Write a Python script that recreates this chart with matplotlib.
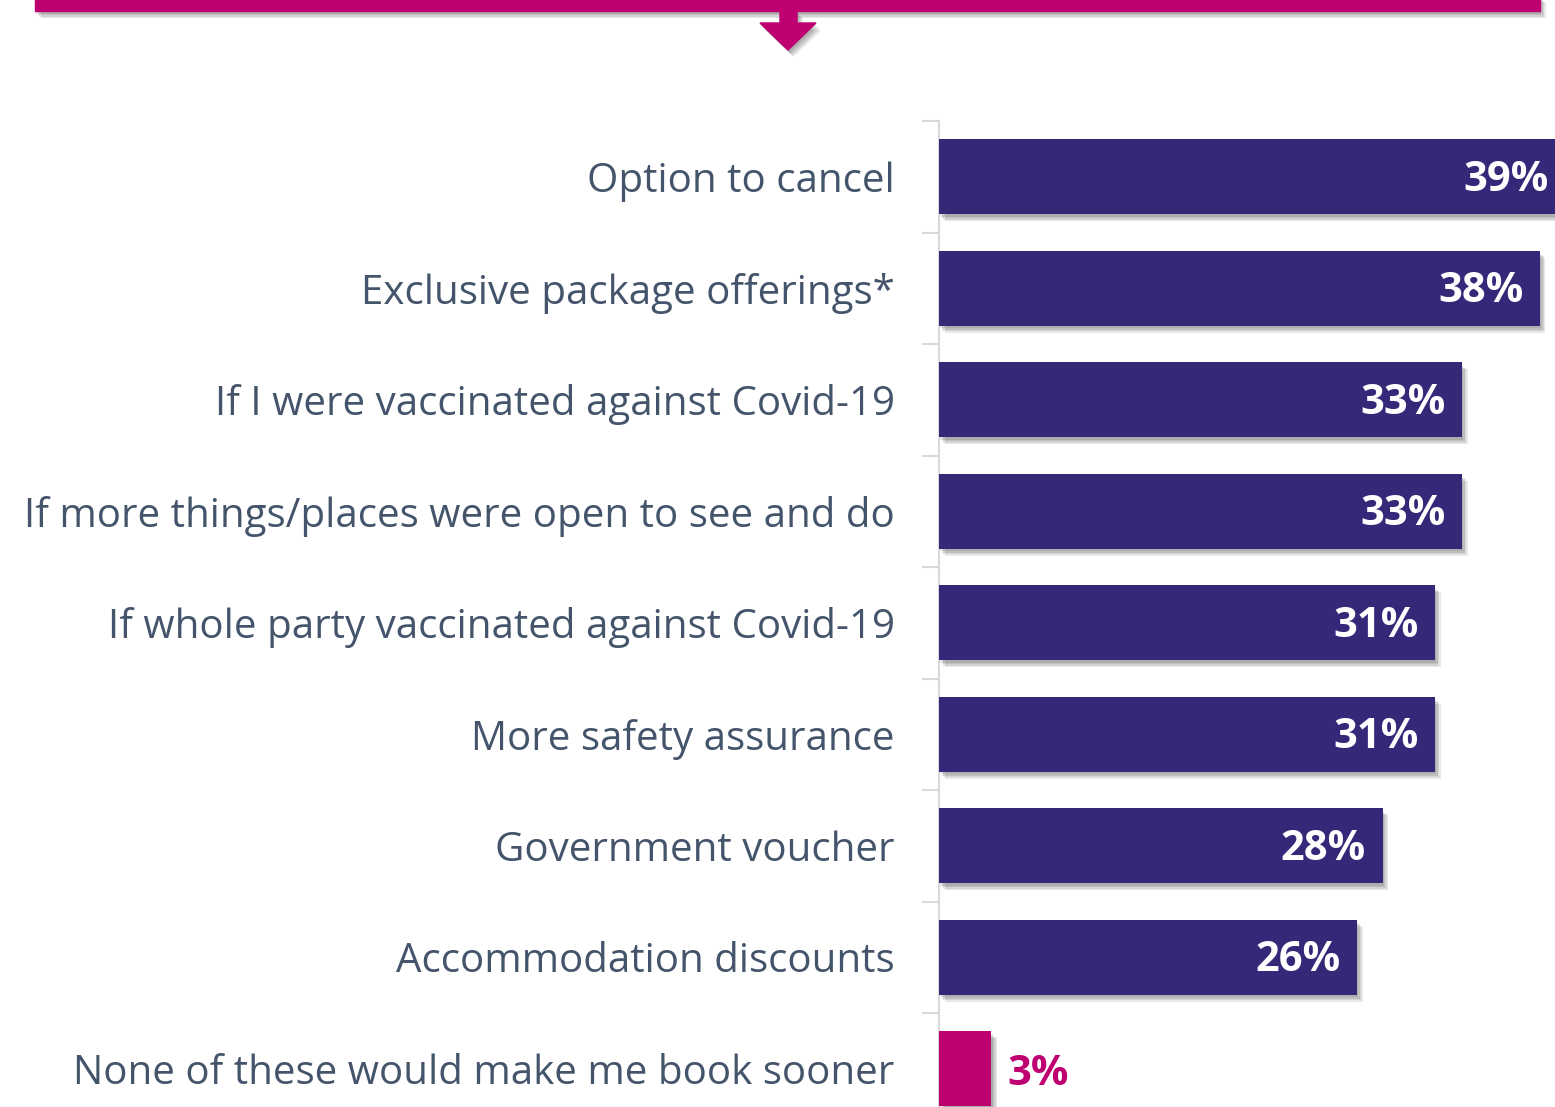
import numpy as np
import matplotlib.pyplot as plt
import matplotlib.patheffects as pe
from matplotlib.patches import Rectangle, Polygon

# values (labels show them rounded); top bar runs off the edge
categories = [
    "Option to cancel",
    "Exclusive package offerings*",
    "If I were vaccinated against Covid-19",
    "If more things/places were open to see and do",
    "If whole party vaccinated against Covid-19",
    "More safety assurance",
    "Government voucher",
    "Accommodation discounts",
    "None of these would make me book sooner",
]
values = [39.4, 37.8, 32.9, 32.9, 31.2, 31.2, 27.9, 26.3, 3.3]
labels = ["39%", "38%", "33%", "33%", "31%", "31%", "28%", "26%", "3%"]

navy = "#352879"
magenta = "#BE0070"
text_col = "#44546A"
colors = [navy] * 8 + [magenta]

plt.rcParams["font.family"] = ["Open Sans", "DejaVu Sans"]

W, H = 1555, 1107
fig = plt.figure(figsize=(W / 100, H / 100), dpi=100)

# axes placed in pixel terms: left spine at x=939, top at y=121, 111.5 px per row
top_px, row_px = 121, 111.5
bottom_px = top_px + 9 * row_px
ax = fig.add_axes([939 / W, (H - bottom_px) / H, 1 - 939 / W, (bottom_px - top_px) / H])

# soft drop shadow: a few faint offset copies
soft = [pe.SimplePatchShadow(offset=(d, -d - 1), shadow_rgbFace="black", alpha=0.09)
        for d in (1, 2, 3, 4)] + [pe.Normal()]

y = np.arange(len(categories))
ax.barh(y, values, height=0.67, color=colors, path_effects=soft, zorder=3)

ax.set_xlim(0, 38.75)
ax.set_ylim(len(categories) - 0.5, -0.5)

for i, (v, lab) in enumerate(zip(values, labels)):
    if i < 8:
        ax.text(v - 1.05, i + 0.03, lab, ha="right", va="center", color="white",
                fontsize=30, fontweight="bold", zorder=4)
    else:
        ax.text(v + 1.0, i + 0.05, lab, ha="left", va="center", color=magenta,
                fontsize=30, fontweight="bold", zorder=4)

ax.set_yticks(y)
ax.set_yticklabels(categories, fontsize=29, color=text_col)
ax.tick_params(axis="y", which="major", length=0, pad=32)
ax.set_yticks(np.arange(len(categories) + 1) - 0.5, minor=True)
ax.tick_params(axis="y", which="minor", length=12, width=1.5, color="#d9d9d9")
ax.set_xticks([])
for s in ["top", "right", "bottom"]:
    ax.spines[s].set_visible(False)
ax.spines["left"].set_color("#d9d9d9")
ax.spines["left"].set_linewidth(1.5)

# banner with arrow at the top
ov = fig.add_axes([0, 0, 1, 1], zorder=-1)
ov.set_xlim(0, W)
ov.set_ylim(H, 0)
ov.axis("off")
ov.add_patch(Rectangle((35, -5), 1505, 16, color=magenta, path_effects=soft))
ov.add_patch(Polygon([(780, 10), (797, 10), (797, 23), (816, 23), (788, 50),
                      (760, 23), (780, 23)], closed=True, color=magenta, path_effects=soft))

fig.savefig("out.png", dpi=100)
